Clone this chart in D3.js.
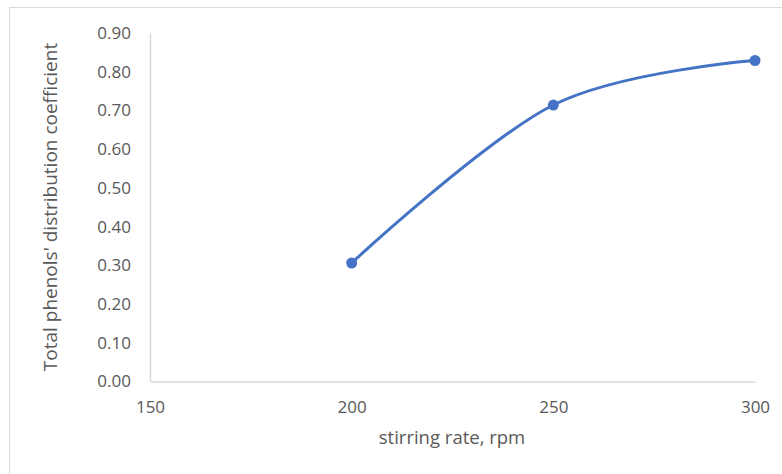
<!DOCTYPE html>
<html><head><meta charset="utf-8">
<script src="https://cdn.jsdelivr.net/npm/d3@7"></script>
<style>body{margin:0;background:#fff}svg{display:block}</style>
</head><body>
<svg id="c" width="782" height="474"></svg>
<script>
const stirringRate = [200, 250, 300];
const distributionCoeff = [0.306, 0.714, 0.829];
const xTicks = [150, 200, 250, 300];
const yTicks = [0, 0.1, 0.2, 0.3, 0.4, 0.5, 0.6, 0.7, 0.8, 0.9];

const svg = d3.select("#c");
const font = "'Open Sans', 'Liberation Sans', sans-serif";
const textColor = "#595959";
const axisColor = "#d9d9d9";

// chart border
svg.append("rect").attr("x", 9.5).attr("y", 7.5).attr("width", 790).attr("height", 490)
  .attr("fill", "none").attr("stroke", axisColor).attr("stroke-width", 1);

const x = d3.scaleLinear().domain([150, 300]).range([150, 755]);
const y = d3.scaleLinear().domain([0, 0.9]).range([381.5, 33]);

// axes
const xAxis = d3.axisBottom(x).tickValues(xTicks).tickSize(0).tickFormat(d3.format("d"));
const gx = svg.append("g").attr("transform", `translate(0,${y(0)})`).call(xAxis);
gx.select(".domain").attr("stroke", axisColor).attr("stroke-width", 1.5);
gx.selectAll("text").attr("fill", textColor).attr("font-size", 17).attr("font-family", font)
  .attr("y", 26).attr("dy", "0.35em");

const yAxis = d3.axisLeft(y).tickValues(yTicks).tickSize(0).tickFormat(d3.format(".2f"));
const gy = svg.append("g").attr("transform", `translate(${x(150)},0)`).call(yAxis);
gy.select(".domain").attr("stroke", axisColor).attr("stroke-width", 1.5);
gy.selectAll("text").attr("fill", textColor).attr("font-size", 17).attr("font-family", font)
  .attr("x", -19);

// titles
svg.append("text").attr("x", 452).attr("y", 438).attr("dy", "0.35em").attr("text-anchor", "middle")
  .attr("fill", textColor).attr("font-size", 18.5).attr("font-family", font).text("stirring rate, rpm");
svg.append("text").attr("transform", "translate(50,207) rotate(-90)").attr("dy", "0.35em").attr("text-anchor", "middle")
  .attr("fill", textColor).attr("font-size", 19).attr("font-family", font).text("Total phenols' distribution coefficient");

// line
const pts = stirringRate.map((d, i) => [d, distributionCoeff[i]]);
const line = d3.line().x(d => x(d[0])).y(d => y(d[1])).curve(d3.curveCatmullRom.alpha(0));
svg.append("path").datum(pts).attr("d", line).attr("fill", "none")
  .attr("stroke", "#4472C4").attr("stroke-width", 3).attr("stroke-linecap", "round");
svg.selectAll("circle.pt").data(pts).join("circle").attr("class", "pt")
  .attr("cx", d => x(d[0])).attr("cy", d => y(d[1])).attr("r", 5.5).attr("fill", "#4472C4");
</script>
</body></html>
